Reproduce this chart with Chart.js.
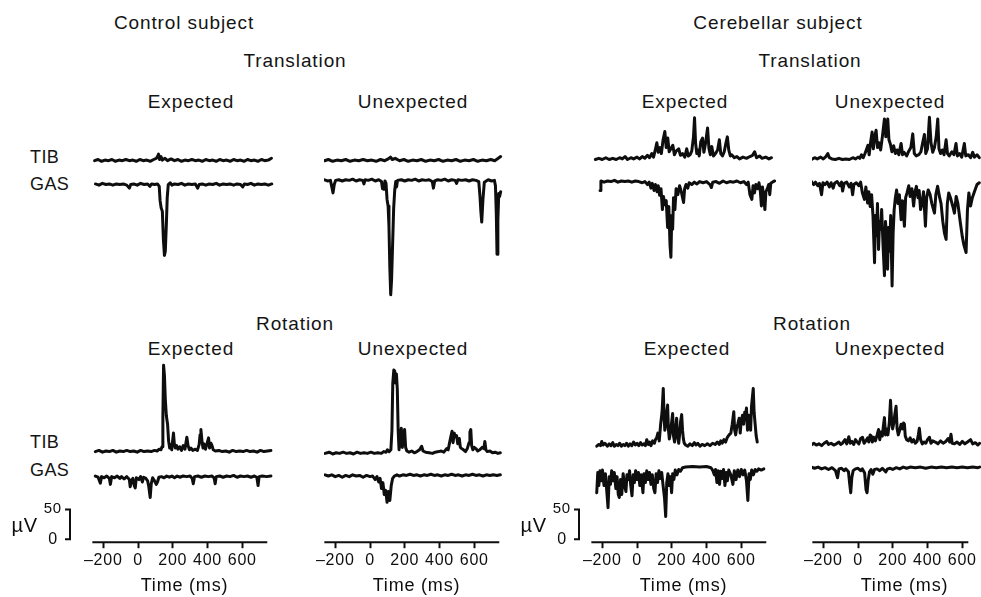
<!DOCTYPE html>
<html>
<head>
<meta charset="utf-8">
<script src="https://cdn.jsdelivr.net/npm/chart.js@4.4.1/dist/chart.umd.min.js"></script>
<style>
  html, body { margin: 0; padding: 0; background: #fff; overflow: hidden; }
  body { width: 981px; height: 597px; position: relative; font-family: "Liberation Sans", Arial, sans-serif; color: #141414; }
  .lbl { position: absolute; transform: translate(-50%, -50%); white-space: nowrap; line-height: 1; font-size: 19px; letter-spacing: 0.9px; }
  .side { position: absolute; transform: translateY(-50%); line-height: 1; font-size: 18px; letter-spacing: 0.4px; }
  canvas { position: absolute; }
</style>
</head>
<body>
<script>
// ---- data (time in ms, amplitude in µV; GAS plotted downward) ----
const timeTicks = [-200, 0, 200, 400, 600];
const subjects = ["Control subject", "Cerebellar subject"];
const perturbations = ["Translation", "Rotation"];
const conditions = ["Expected", "Unexpected"];
const muscles = ["TIB", "GAS"];
const scaleBar = [0, 50];

// control subject, translation, expected
const ctrlTransExpTIB = [[-250,2],[-230,4],[-210,1],[-190,3],[-170,2],[-150,4],[-130,1],[-110,3],[-90,2],[-70,4],[-50,2],[-30,3],[-10,1],[10,4],[30,2],[50,3],[70,1],[90,4],[105,6],[112,9],[118,13],[124,4],[132,9],[140,3],[155,6],[170,2],[190,5],[210,2],[230,4],[250,1],[270,3],[290,2],[310,4],[330,2],[350,3],[370,1],[390,4],[410,2],[430,3],[450,1],[470,4],[490,2],[510,3],[530,1],[550,4],[570,2],[590,3],[610,1],[630,4],[650,2],[670,3],[690,1],[710,4],[730,2],[750,3],[768,6]];
const ctrlTransExpGAS = [[-245,2],[-225,4],[-205,1],[-185,3],[-165,2],[-145,4],[-125,2],[-105,3],[-85,2],[-65,4],[-50,9],[-42,3],[-25,2],[-5,4],[15,1],[35,3],[55,2],[68,6],[78,2],[95,3],[112,2],[122,6],[127,30],[133,42],[140,48],[146,95],[152,122],[157,115],[163,70],[168,25],[174,3],[185,0],[195,4],[210,2],[230,3],[250,1],[270,4],[290,2],[310,3],[330,2],[343,9],[352,3],[370,2],[390,4],[410,2],[430,3],[450,1],[470,4],[490,2],[510,3],[530,2],[550,4],[570,2],[590,3],[603,7],[612,2],[630,3],[650,1],[670,4],[690,2],[710,3],[730,2],[750,4],[770,2]];
// control subject, translation, unexpected
const ctrlTransUnexpTIB = [[-262,2],[-240,4],[-215,1],[-190,3],[-165,2],[-140,4],[-115,1],[-90,3],[-65,2],[-40,4],[-15,2],[10,3],[35,1],[60,4],[85,2],[105,5],[118,8],[128,4],[145,6],[170,2],[195,4],[220,1],[245,3],[270,2],[295,4],[320,1],[345,3],[370,2],[395,4],[420,1],[445,3],[470,2],[495,4],[520,1],[545,3],[570,2],[595,4],[620,1],[645,3],[670,2],[695,4],[718,2],[738,6],[752,9]];
const ctrlTransUnexpGAS = [[-262,2],[-245,4],[-228,3],[-220,14],[-213,24],[-206,10],[-198,3],[-180,2],[-160,4],[-140,2],[-120,3],[-100,1],[-80,4],[-60,2],[-42,3],[-35,9],[-28,2],[-10,3],[10,1],[30,4],[50,2],[66,5],[72,17],[80,18],[86,4],[92,8],[98,35],[104,46],[109,80],[114,150],[119,195],[124,170],[130,110],[136,50],[142,20],[148,5],[153,14],[158,3],[180,2],[200,4],[220,2],[240,3],[260,1],[280,4],[300,2],[320,3],[340,2],[358,5],[365,16],[372,4],[390,2],[410,3],[430,1],[450,4],[470,2],[490,3],[498,8],[506,2],[530,3],[550,2],[570,4],[590,2],[610,3],[626,5],[633,30],[638,55],[643,73],[650,35],[658,6],[680,2],[700,4],[716,3],[722,12],[727,60],[731,127],[736,70],[741,25],[746,30],[752,22]];
// control subject, rotation, expected
const ctrlRotExpTIB = [[-246,2],[-225,4],[-205,1],[-185,3],[-165,2],[-145,4],[-125,1],[-105,3],[-85,2],[-65,4],[-45,2],[-25,3],[-5,1],[15,4],[35,2],[55,3],[75,2],[95,4],[110,3],[122,6],[132,5],[138,10],[143,60],[147,147],[152,130],[157,90],[163,62],[170,48],[176,20],[182,8],[188,14],[194,5],[199,20],[204,33],[209,15],[215,8],[222,12],[230,6],[240,10],[250,4],[260,12],[270,6],[281,26],[288,12],[296,5],[305,8],[315,4],[330,6],[342,4],[352,14],[357,30],[362,39],[368,20],[374,8],[380,15],[388,6],[396,14],[406,25],[412,8],[420,16],[426,12],[433,5],[445,3],[465,4],[485,2],[505,3],[525,1],[545,4],[565,2],[585,3],[605,2],[625,4],[645,2],[665,3],[685,1],[705,4],[725,2],[745,3],[765,4]];
const ctrlRotExpGAS = [[-246,2],[-230,4],[-217,14],[-210,3],[-195,5],[-180,2],[-165,6],[-159,16],[-152,3],[-135,5],[-120,2],[-105,6],[-95,3],[-80,7],[-65,3],[-50,8],[-45,20],[-38,10],[-30,6],[-22,18],[-16,22],[-10,5],[5,8],[15,3],[25,12],[32,4],[45,6],[55,10],[62,20],[70,38],[76,15],[84,5],[95,10],[105,16],[112,12],[120,4],[135,3],[150,5],[165,2],[180,4],[195,2],[210,5],[225,2],[240,4],[260,2],[280,3],[300,2],[312,6],[318,15],[325,3],[345,2],[365,4],[385,2],[405,3],[425,2],[438,5],[444,15],[450,3],[470,2],[490,4],[510,2],[530,3],[550,1],[570,4],[590,2],[610,3],[630,2],[650,4],[670,2],[684,4],[691,18],[697,3],[715,2],[740,3],[765,2]];
// control subject, rotation, unexpected
const ctrlRotUnexpTIB = [[-259,2],[-235,4],[-215,1],[-195,3],[-175,2],[-155,4],[-135,2],[-115,3],[-95,1],[-75,4],[-55,2],[-35,3],[-15,2],[5,4],[25,2],[45,3],[65,2],[80,5],[92,4],[100,8],[110,5],[120,8],[126,40],[131,120],[137,142],[142,140],[147,120],[152,135],[157,110],[162,40],[167,8],[174,25],[180,44],[186,12],[193,30],[199,42],[205,12],[212,6],[225,4],[240,6],[255,3],[270,5],[285,8],[297,14],[305,6],[320,4],[340,3],[360,2],[375,4],[395,5],[410,6],[425,4],[441,10],[450,8],[458,20],[465,30],[472,39],[478,20],[485,36],[491,30],[498,32],[505,18],[514,27],[520,12],[528,10],[538,8],[550,5],[560,10],[570,20],[575,38],[580,42],[585,15],[592,8],[600,12],[610,10],[620,6],[632,8],[645,12],[655,10],[661,22],[667,8],[675,5],[690,6],[705,3],[720,4],[736,2],[750,3]];
const ctrlRotUnexpGAS = [[-259,2],[-240,4],[-220,2],[-200,5],[-180,3],[-160,6],[-140,3],[-120,5],[-100,2],[-80,4],[-60,3],[-40,6],[-20,3],[0,5],[15,4],[30,10],[40,5],[50,14],[58,8],[66,25],[74,15],[82,35],[90,28],[98,48],[106,30],[114,45],[122,20],[130,8],[140,4],[155,2],[170,4],[190,2],[210,3],[230,1],[250,3],[270,2],[290,4],[310,2],[330,3],[350,1],[370,3],[390,2],[410,4],[430,2],[450,3],[470,1],[490,3],[510,2],[530,4],[550,2],[570,3],[590,1],[610,3],[630,2],[650,4],[670,2],[690,3],[710,2],[730,3],[750,2]];
// cerebellar subject, translation, expected
const cereTransExpTIB = [[-240,2],[-220,4],[-200,2],[-180,5],[-160,2],[-140,4],[-120,2],[-100,5],[-85,3],[-69,7],[-55,2],[-35,5],[-20,3],[0,6],[15,3],[30,7],[45,4],[60,9],[72,5],[85,12],[95,6],[105,18],[114,30],[122,14],[132,22],[140,12],[150,35],[160,49],[168,22],[177,38],[185,15],[195,20],[206,26],[215,10],[225,16],[240,20],[250,9],[262,12],[275,6],[286,20],[295,8],[305,10],[315,16],[325,40],[331,72],[337,30],[344,12],[350,18],[358,8],[367,32],[377,38],[385,14],[395,30],[406,55],[414,20],[422,10],[430,24],[440,8],[452,12],[464,18],[474,35],[482,12],[492,8],[502,15],[512,30],[520,40],[528,18],[537,8],[545,10],[560,5],[575,7],[590,3],[610,6],[630,4],[650,7],[665,9],[677,15],[688,5],[705,8],[720,4],[740,6],[760,3],[774,5]];
const cereTransExpGAS = [[-213,18],[-208,2],[-190,4],[-170,2],[-150,3],[-130,1],[-110,4],[-90,2],[-70,3],[-50,2],[-30,4],[-10,2],[10,3],[30,5],[45,3],[60,8],[70,4],[80,14],[88,6],[98,18],[106,8],[115,20],[122,10],[130,26],[138,15],[146,50],[152,28],[160,42],[168,35],[176,80],[183,45],[190,110],[195,130],[200,60],[205,83],[210,30],[218,50],[225,15],[235,25],[245,10],[255,20],[262,30],[268,38],[274,15],[282,8],[292,14],[300,5],[315,8],[330,4],[345,7],[360,3],[380,5],[400,3],[420,8],[428,13],[436,4],[455,3],[475,6],[495,2],[515,5],[535,3],[555,4],[575,2],[595,5],[615,3],[630,8],[640,4],[650,25],[661,33],[668,10],[676,22],[684,8],[694,15],[702,5],[710,20],[716,44],[722,12],[730,30],[736,50],[742,20],[750,15],[758,8],[764,25],[770,6],[785,3],[792,2]];
// cerebellar subject, translation, unexpected
const cereTransUnexpTIB = [[-268,2],[-250,5],[-235,3],[-215,6],[-200,3],[-185,7],[-174,12],[-165,5],[-150,3],[-130,2],[-110,4],[-90,2],[-70,3],[-50,2],[-30,5],[-15,3],[0,6],[10,4],[20,10],[30,5],[40,12],[50,20],[57,26],[64,10],[72,30],[81,48],[88,20],[96,40],[104,51],[112,22],[120,30],[130,18],[140,40],[152,70],[160,40],[171,70],[178,35],[186,28],[195,15],[205,25],[215,12],[225,18],[235,10],[248,29],[256,10],[265,14],[280,8],[292,16],[304,22],[315,45],[324,12],[335,8],[350,10],[362,15],[372,30],[382,44],[390,12],[400,20],[411,73],[420,30],[430,14],[440,22],[450,40],[459,70],[466,20],[475,12],[485,18],[495,10],[507,35],[515,12],[525,8],[540,15],[552,10],[564,29],[572,8],[585,12],[597,6],[612,29],[620,8],[635,10],[648,5],[660,14],[670,6],[685,10],[698,5]];
const cereTransUnexpGAS = [[-268,3],[-255,8],[-245,4],[-232,10],[-222,6],[-210,25],[-202,5],[-190,8],[-178,4],[-165,12],[-155,5],[-143,14],[-135,6],[-120,3],[-105,10],[-95,4],[-89,19],[-80,6],[-65,4],[-50,12],[-40,6],[-31,25],[-24,8],[-10,5],[5,10],[15,4],[25,22],[37,33],[45,12],[55,39],[62,20],[70,45],[78,25],[86,60],[95,139],[100,60],[106,94],[112,40],[118,117],[124,70],[130,83],[136,50],[144,110],[152,161],[158,70],[164,94],[170,150],[176,80],[182,120],[188,60],[196,178],[202,90],[208,50],[215,30],[222,17],[230,40],[238,25],[248,67],[256,35],[267,78],[274,30],[282,22],[292,10],[300,28],[310,15],[320,44],[328,20],[336,11],[345,30],[352,18],[360,50],[368,40],[377,20],[388,78],[395,30],[404,17],[415,25],[425,40],[440,56],[448,25],[458,11],[470,30],[478,40],[488,70],[498,90],[507,100],[514,40],[522,22],[532,30],[545,44],[555,56],[565,28],[575,40],[588,70],[600,95],[610,110],[622,122],[630,50],[638,22],[648,44],[658,30],[670,20],[685,8],[698,5]];
// cerebellar subject, rotation, expected
const cereRotExpTIB = [[-232,3],[-220,6],[-210,4],[-203,11],[-195,5],[-185,8],[-170,3],[-160,7],[-150,4],[-140,9],[-130,3],[-120,6],[-110,4],[-100,8],[-90,3],[-80,6],[-70,4],[-60,8],[-50,3],[-40,7],[-30,4],[-20,10],[-10,5],[0,8],[10,4],[20,9],[30,5],[40,7],[48,4],[56,14],[64,6],[72,10],[80,4],[90,12],[100,8],[106,14],[113,17],[120,25],[128,12],[136,40],[144,60],[151,100],[156,50],[160,30],[166,40],[171,60],[176,72],[181,30],[186,15],[192,25],[198,40],[205,58],[210,20],[216,10],[222,30],[228,50],[233,20],[240,8],[246,25],[251,45],[257,56],[262,30],[267,15],[272,8],[280,5],[292,3],[305,7],[318,4],[330,9],[340,5],[350,8],[362,3],[375,6],[390,4],[405,7],[420,4],[435,8],[450,6],[462,10],[474,6],[482,12],[490,8],[500,14],[510,10],[520,18],[530,22],[540,25],[548,40],[557,61],[562,30],[568,22],[574,35],[580,40],[588,50],[594,25],[600,45],[607,55],[614,40],[620,60],[625,55],[630,67],[636,30],[642,55],[648,40],[654,30],[659,70],[664,85],[669,100],[674,60],[680,40],[686,20],[692,10]];
const cereRotExpGAS = [[-232,42],[-226,8],[-220,30],[-213,5],[-206,22],[-199,4],[-190,30],[-182,10],[-174,40],[-167,67],[-160,15],[-153,28],[-146,5],[-138,22],[-131,8],[-122,35],[-115,15],[-108,45],[-102,50],[-95,20],[-88,45],[-80,10],[-72,30],[-64,40],[-58,12],[-50,20],[-43,5],[-36,30],[-29,47],[-22,12],[-15,25],[-8,5],[0,20],[8,8],[16,30],[24,12],[34,42],[40,10],[48,25],[56,5],[64,20],[72,8],[80,28],[88,12],[96,35],[103,42],[110,10],[118,25],[126,5],[134,18],[142,8],[150,30],[158,50],[165,82],[171,25],[178,10],[185,30],[192,15],[199,42],[205,10],[212,20],[220,4],[230,12],[240,3],[250,6],[262,0],[280,-1],[320,-2],[360,-1],[400,-2],[425,0],[435,4],[445,12],[452,3],[460,25],[467,5],[475,28],[482,6],[490,18],[498,3],[506,30],[513,8],[520,22],[528,4],[540,12],[552,28],[560,5],[570,20],[580,4],[590,15],[600,3],[610,12],[620,4],[630,22],[638,55],[645,10],[652,20],[660,4],[670,12],[680,3],[690,6],[700,2],[715,4],[730,2]];
// cerebellar subject, rotation, unexpected
const cereRotUnexpTIB = [[-269,3],[-255,6],[-240,3],[-225,5],[-210,2],[-195,6],[-180,9],[-170,4],[-155,6],[-140,3],[-125,5],[-110,8],[-100,4],[-90,6],[-75,12],[-65,5],[-53,17],[-45,6],[-35,9],[-25,4],[-15,12],[-5,8],[5,5],[15,14],[26,16],[35,6],[45,10],[55,15],[62,8],[70,20],[76,18],[82,8],[90,16],[100,10],[110,20],[118,29],[125,12],[132,25],[140,18],[146,35],[152,49],[158,20],[165,30],[172,20],[180,40],[187,78],[193,45],[199,30],[206,40],[212,55],[219,68],[225,30],[232,20],[240,28],[248,38],[257,30],[262,40],[267,38],[272,18],[280,12],[290,10],[300,15],[310,8],[320,12],[330,6],[340,9],[347,20],[353,31],[360,12],[370,5],[380,8],[390,6],[400,12],[411,16],[420,6],[430,10],[445,8],[460,5],[475,10],[490,6],[505,9],[519,14],[528,8],[535,21],[542,6],[555,5],[570,8],[585,4],[600,9],[615,5],[630,8],[648,12],[660,5],[675,7],[690,3],[700,6]];
const cereRotUnexpGAS = [[-269,2],[-250,4],[-230,2],[-210,5],[-190,3],[-170,6],[-150,3],[-130,8],[-118,20],[-110,5],[-95,4],[-80,8],[-70,5],[-55,10],[-48,30],[-42,45],[-36,20],[-28,8],[-15,5],[0,4],[15,8],[25,5],[38,12],[46,40],[52,45],[58,25],[66,10],[75,6],[85,14],[95,6],[110,5],[125,8],[140,4],[160,10],[170,5],[185,4],[200,6],[220,3],[240,5],[260,2],[280,4],[300,2],[330,3],[360,2],[390,4],[420,2],[450,3],[480,2],[510,3],[540,2],[570,3],[600,2],[630,3],[660,2],[690,3],[700,2]];

// ---- layout (pixels / µV offsets) ----
const xRange = [-265, 800];
const yMax = 758.6;             // 0.6 px per µV over the plot height
const panels = [
  { left: 12,  axisEnd: 744, bar: 22, traces: [[ctrlTransExpTIB, 638, 1], [ctrlTransExpGAS, 603, -1], [ctrlRotExpTIB, 150, 1], [ctrlRotExpGAS, 113, -1]] },
  { left: 244, axisEnd: 744, bar: 0,  traces: [[ctrlTransUnexpTIB, 638, 1], [ctrlTransUnexpGAS, 610, -1], [ctrlRotUnexpTIB, 147, 1], [ctrlRotUnexpGAS, 115, -1]] },
  { left: 511, axisEnd: 744, bar: 12, traces: [[cereTransExpTIB, 640, 1], [cereTransExpGAS, 608, -1], [cereRotExpTIB, 158, 1], [cereRotExpGAS, 125, -1]] },
  { left: 732, axisEnd: 635, bar: 0,  traces: [[cereTransUnexpTIB, 640, 1], [cereTransUnexpGAS, 608, -1], [cereRotUnexpTIB, 160, 1], [cereRotUnexpGAS, 128, -1]] },
];

const texts = [
  [subjects[0], 184, 22], [subjects[1], 778, 22],
  [perturbations[0], 295, 60], [perturbations[0], 810, 60],
  [conditions[0], 191, 101], [conditions[1], 413, 101], [conditions[0], 685, 101], [conditions[1], 890, 101],
  [perturbations[1], 295, 323], [perturbations[1], 812, 323],
  [conditions[0], 191, 348], [conditions[1], 413, 348], [conditions[0], 687, 348], [conditions[1], 890, 348],
];
texts.forEach(([t, x, y]) => {
  const d = document.createElement("div");
  d.className = "lbl"; d.textContent = t;
  d.style.left = x + "px"; d.style.top = y + "px";
  document.body.appendChild(d);
});
[[muscles[0], 157], [muscles[1], 184], [muscles[0], 442], [muscles[1], 470]].forEach(([t, y]) => {
  const d = document.createElement("div");
  d.className = "side"; d.textContent = t;
  d.style.left = "30px"; d.style.top = y + "px";
  document.body.appendChild(d);
});

const ink = "#0e0e0e";
const font = "'Liberation Sans', Arial, sans-serif";

const axisAndBar = {
  id: "axisAndBar",
  beforeDraw(chart) { chart.ctx.letterSpacing = "0.8px"; },
  afterDraw(chart, args, opts) {
    const { ctx, chartArea, scales: { x, y } } = chart;
    ctx.save();
    ctx.strokeStyle = ink; ctx.fillStyle = ink; ctx.lineWidth = 2;
    ctx.beginPath();
    ctx.moveTo(x.getPixelForValue(-263), chartArea.bottom);
    ctx.lineTo(x.getPixelForValue(opts.axisEnd), chartArea.bottom);
    ctx.stroke();
    if (opts.bar) {
      const bx = chartArea.left - opts.bar;
      const y0 = y.getPixelForValue(scaleBar[0] + 5), y1 = y.getPixelForValue(scaleBar[1] + 5);
      ctx.beginPath();
      ctx.moveTo(bx - 5, y1); ctx.lineTo(bx, y1); ctx.lineTo(bx, y0); ctx.lineTo(bx - 5, y0);
      ctx.stroke();
      ctx.textAlign = "right"; ctx.textBaseline = "middle";
      ctx.font = "15px " + font; ctx.fillText(String(scaleBar[1]), bx - 8, y1 - 1);
      ctx.font = "16px " + font; ctx.fillText(String(scaleBar[0]), bx - 12, y0);
      ctx.font = "20px " + font; ctx.fillText("\u00b5V", bx - 32, (y0 + y1) / 2 + 2);
    }
    ctx.restore();
  }
};

panels.forEach(p => {
  const c = document.createElement("canvas");
  c.width = 275; c.height = 507;
  c.style.left = p.left + "px"; c.style.top = "90px";
  document.body.appendChild(c);
  new Chart(c, {
    type: "line",
    data: {
      datasets: p.traces.map(([pts, base, dir]) => ({
        data: pts.map(([t, v]) => ({ x: t, y: base + dir * v })),
        borderColor: ink, borderWidth: 3, pointRadius: 0, tension: 0,
        borderJoinStyle: "round", borderCapStyle: "round", fill: false,
      })),
    },
    options: {
      responsive: false, animation: false, devicePixelRatio: 1,
      layout: { padding: { left: 80, right: 10, top: 0, bottom: 0 } },
      plugins: { legend: { display: false }, tooltip: { enabled: false }, axisAndBar: { axisEnd: p.axisEnd, bar: p.bar } },
      scales: {
        x: {
          type: "linear", min: xRange[0], max: xRange[1],
          afterBuildTicks: s => { s.ticks = timeTicks.map(v => ({ value: v })); },
          grid: { drawOnChartArea: false, drawTicks: true, tickLength: 6, tickColor: ink, tickWidth: 2 },
          border: { display: false },
          ticks: { color: ink, padding: 3, autoSkip: false, maxRotation: 0,
                   font: { family: font, size: 16, lineHeight: 1.2 },
                   callback: v => (v < 0 ? "\u2013" + Math.abs(v) : String(v)) },
          title: { display: true, text: "Time (ms)", color: ink, padding: { top: 2, bottom: 0 },
                   font: { family: font, size: 18, lineHeight: 1.2 } },
        },
        y: { display: false, min: 0, max: yMax },
      },
    },
    plugins: [axisAndBar],
  });
});
</script>
</body>
</html>
